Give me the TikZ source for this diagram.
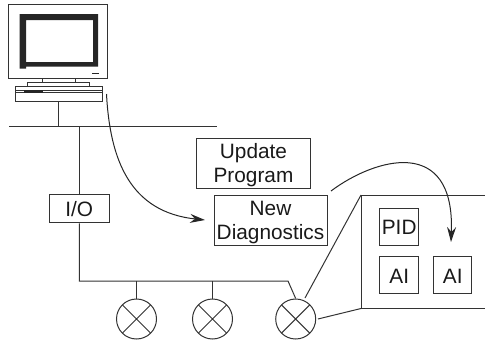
\documentclass[tikz,border=0pt]{standalone}
\usepackage{fontspec}
\setmainfont{Liberation Sans}
\usetikzlibrary{arrows.meta}
\tikzset{
  ln/.style={draw=black!80,line width=1pt},
  lbl/.style={ln,inner sep=0pt,align=center,text depth=0pt,font=\fontsize{20.8}{24}\selectfont,text=black!90},
  valve/.style={circle,ln,minimum size=40pt,inner sep=0pt,path picture={
    \draw[black!80,line width=1pt] (path picture bounding box.north west)--(path picture bounding box.south east)
      (path picture bounding box.north east)--(path picture bounding box.south west);}},
  arr/.style={draw=black!85,line width=1pt,-{Stealth[length=15pt,width=9pt,inset=5pt]}}
}
\begin{document}
\begin{tikzpicture}[x=1pt,y=-1pt]
\useasboundingbox (0,0) rectangle (485,340);
% computer
\draw[ln] (8.5,4.5) rectangle (107,78.5);
\fill[black!85,even odd rule] (19.5,14) -- (98,14) -- (98,66.5) -- (26,66.5) -- (26,68.5) -- (19.5,68.5) -- cycle (26,20) rectangle (93,62);
\fill[black!85] (92,73.2) rectangle (99,74.2);
\draw[ln] (42.5,78.5) rectangle (75,82.5);
\draw[ln] (27.5,82.5) rectangle (89,86.5);
\node[ln,minimum width=87pt,minimum height=15pt,inner sep=0pt] (kbd) at (59,94) {};
\draw[ln] (15.5,90.5) -- (102.5,90.5) (15.5,92.5) -- (102.5,92.5);
\fill[black!85] (24,90) rectangle (43,92.5);
% bus
\coordinate (busL) at (9,126.3);
\coordinate (busR) at (217,126.3);
\coordinate (busA) at (58.3,126.3);
\coordinate (busB) at (79.3,126.3);
\draw[ln] (busL) -- (busR);
\draw[ln] (kbd.south -| busA) -- (busA);
% boxes
\node[lbl,minimum width=60.5pt,minimum height=28.5pt] (io) at (79.3,208.7) {I/O};
\node[lbl,minimum width=114pt,minimum height=50pt] (up) at (253.5,163) {Update\\Program};
\node[lbl,minimum width=113pt,minimum height=50pt] (nd) at (270.5,220) {New\\Diagnostics};
\draw[ln] (busB) -- (io.north);
% valves
\node[valve] (v1) at (136.5,319) {};
\node[valve] (v2) at (212.5,319) {};
\node[valve] (v3) at (295.7,319) {};
\coordinate (fb) at (79.3,281);
\coordinate (fc) at (288,281);
\draw[ln] (io.south) -- (fb) -- (fc) -- (v3.north);
\draw[ln] (v1.north) -- (v1.north |- fb);
\draw[ln] (v2.north) -- (v2.north |- fb);
% inset
\coordinate (tl) at (361,195);
\coordinate (bl) at (361,308.5);
\coordinate (tr) at (485,195);
\coordinate (br) at (485,308.5);
\coordinate (z1) at (305,298);
\coordinate (z2) at (318,319);
\draw[ln] (tr) -- (tl) -- (bl) -- (br);
\draw[ln] (z1) -- (tl);
\draw[ln] (z2) -- (bl);
\node[lbl,minimum width=38.5pt,minimum height=37pt] (pid) at (399.2,227) {\raisebox{-1.5pt}{PID}};
\node[lbl,minimum width=38.5pt,minimum height=37pt] (ai1) at (399.2,275) {\raisebox{-2.5pt}{AI}};
\node[lbl,minimum width=38.5pt,minimum height=37pt] (ai2) at (452.7,275) {\raisebox{-2.5pt}{AI}};
% curved arrows
\coordinate (a1) at (106.5,94);
\coordinate (a2) at (205,220);
\coordinate (b1) at (331,191);
\coordinate (b2) at (451,242);
\draw[arr] (a1) .. controls (110,160) and (130,212) .. (a2);
\draw[arr] (b1) .. controls (375,158) and (455,135) .. (b2);
\end{tikzpicture}
\end{document}
